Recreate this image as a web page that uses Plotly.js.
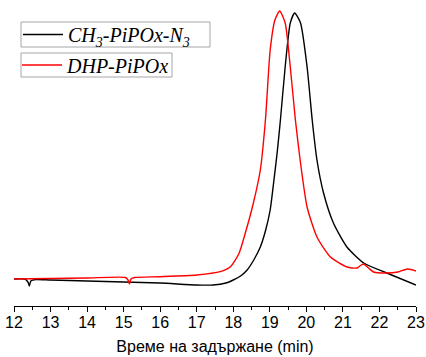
<!DOCTYPE html>
<html>
<head>
<meta charset="utf-8">
<script src="https://cdn.plot.ly/plotly-3.0.1.min.js"></script>
<style>html,body{margin:0;padding:0;background:#fff;}#chart{width:426px;height:357px;}</style>
</head>
<body>
<div id="chart"></div>
<script>
// Retention time (min) and detector signal (arbitrary units)
const blackName = "<i>CH<sub>3</sub>-PiPOx-N<sub>3</sub></i>";
const redName = "<i>DHP-PiPOx</i>";

const blackTime = [12.0, 12.3, 12.38, 12.42, 12.46, 12.6, 13, 14, 15, 16, 17, 17.45, 17.8, 18.0, 18.2, 18.38, 18.56, 18.74, 18.88, 19.01, 19.1, 19.2, 19.29, 19.42, 19.56, 19.68, 19.84, 20.02, 20.16, 20.29, 20.47, 20.74, 21.11, 21.57, 22.2, 23.0];
const blackSignal = [27, 26.8, 24, 20, 25, 26.5, 26, 25, 24, 23, 21, 21, 23, 26, 30, 36, 46, 59, 75, 96, 122, 153, 186, 239, 283, 293, 283, 239, 186, 146, 113, 83, 59, 43, 33, 21];

const redTime = [12.0, 13, 14, 15.05, 15.12, 15.16, 15.2, 15.3, 16, 17, 17.64, 17.92, 18.15, 18.33, 18.55, 18.74, 18.88, 19.01, 19.14, 19.27, 19.42, 19.56, 19.70, 19.84, 20.02, 20.29, 20.66, 21.11, 21.39, 21.5, 21.57, 21.7, 21.84, 22.2, 22.5, 22.77, 23.0];
const redSignal = [27, 27.5, 28, 28.5, 26, 22, 27, 28.5, 29.3, 31, 34.3, 39.3, 52, 73, 103, 136, 186, 256, 286, 295, 283, 239, 186, 143, 99, 69, 49, 39, 38, 41, 42, 38, 34, 33, 34, 37, 35];

const xTicks = [12, 13, 14, 15, 16, 17, 18, 19, 20, 21, 22, 23];
const xTitle = "Време на задържане (min)";

const traces = [
  {x: blackTime, y: blackSignal, name: blackName, type: 'scatter', mode: 'lines',
   line: {color: '#000000', width: 1.4, shape: 'spline', smoothing: 0.6}, legend: 'legend'},
  {x: redTime, y: redSignal, name: redName, type: 'scatter', mode: 'lines',
   line: {color: '#ff0000', width: 1.4, shape: 'spline', smoothing: 0.6}, legend: 'legend2'}
];

// pixel helpers for legend frames (plot area: x 14..416, y 6..306)
const px = v => (v - 14) / 402;
const py = v => (306 - v) / 300;

const legFont = {family: 'Liberation Serif, Times New Roman, serif', size: 20, color: '#000'};
const layout = {
  width: 426, height: 357,
  margin: {l: 14, r: 10, t: 6, b: 51, pad: 0, autoexpand: false},
  paper_bgcolor: '#fff', plot_bgcolor: '#fff',
  showlegend: true,
  legend: {xref: 'paper', yref: 'paper', x: px(18), y: py(34.5), xanchor: 'left', yanchor: 'middle',
           borderwidth: 0, bgcolor: 'rgba(0,0,0,0)', font: legFont, tracegroupgap: 0, itemwidth: 40},
  legend2: {xref: 'paper', yref: 'paper', x: px(17), y: py(65), xanchor: 'left', yanchor: 'middle',
           borderwidth: 0, bgcolor: 'rgba(0,0,0,0)', font: legFont, tracegroupgap: 0, itemwidth: 40},
  shapes: [
    {type: 'rect', xref: 'paper', yref: 'paper', x0: px(21), x1: px(210), y0: py(47), y1: py(22),
     line: {color: '#a6a6a6', width: 1}, fillcolor: 'rgba(0,0,0,0)', layer: 'above'},
    {type: 'rect', xref: 'paper', yref: 'paper', x0: px(21), x1: px(172), y0: py(77), y1: py(53),
     line: {color: '#a6a6a6', width: 1}, fillcolor: 'rgba(0,0,0,0)', layer: 'above'}
  ],
  xaxis: {
    range: [12, 23], tickvals: xTicks, ticktext: xTicks.map(String),
    showgrid: false, zeroline: false, showline: true, linecolor: '#000', linewidth: 1,
    ticks: 'outside', ticklen: 5, tickwidth: 1, tickcolor: '#000', ticklabelstandoff: -3,
    minor: {dtick: 0.5, tick0: 12, ticks: 'outside', ticklen: 3, tickwidth: 1, tickcolor: '#000', showgrid: false},
    tickfont: {family: 'Liberation Sans, Arial, sans-serif', size: 16, color: '#000'},
    title: {text: xTitle, font: {family: 'Liberation Sans, Arial, sans-serif', size: 16, color: '#000'}, standoff: 10}
  },
  yaxis: {range: [0, 300], visible: false, showgrid: false, zeroline: false}
};

Plotly.newPlot('chart', traces, layout, {displayModeBar: false, staticPlot: true});
</script>
</body>
</html>
